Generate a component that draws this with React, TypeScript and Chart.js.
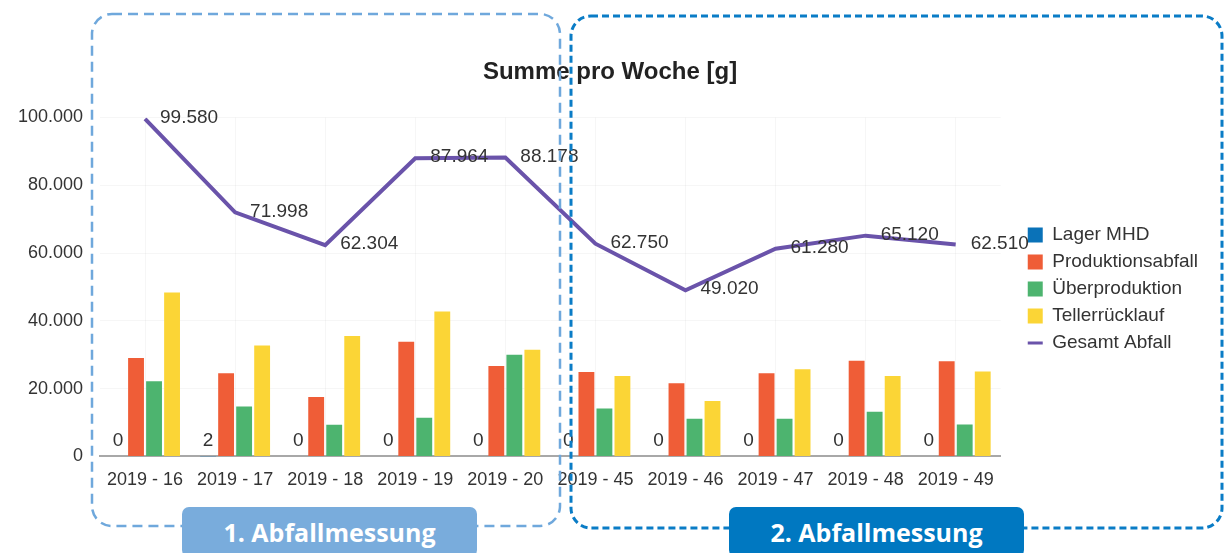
import React, { useEffect, useRef } from "react";
import { Chart, registerables } from "chart.js";

Chart.register(...registerables);

const categories = [
  "2019 - 16", "2019 - 17", "2019 - 18", "2019 - 19", "2019 - 20",
  "2019 - 45", "2019 - 46", "2019 - 47", "2019 - 48", "2019 - 49",
];
const lagerMHD = [0, 2, 0, 0, 0, 0, 0, 0, 0, 0];
const produktionsabfall = [29000, 24500, 17500, 33800, 26700, 24900, 21600, 24500, 28200, 28100];
const ueberproduktion = [22200, 14750, 9300, 11400, 30000, 14100, 11100, 11100, 13200, 9400];
const tellerruecklauf = [48380, 32746, 35504, 42764, 31478, 23750, 16320, 25680, 23720, 25010];
const gesamtAbfall = [99580, 71998, 62304, 87964, 88178, 62750, 49020, 61280, 65120, 62510];
const yTicks = [0, 20000, 40000, 60000, 80000, 100000];

const FONT = '"Liberation Sans", Arial, sans-serif';
const fmt = (v: number) => String(Math.round(v)).replace(/\B(?=(\d{3})+(?!\d))/g, ".");

const valueLabels = {
  id: "valueLabels",
  afterDatasetsDraw(chart: any) {
    const ctx = chart.ctx;
    ctx.save();
    ctx.font = `19px ${FONT}`;
    ctx.fillStyle = "#333";
    ctx.textBaseline = "middle";
    const m0 = chart.getDatasetMeta(0);
    m0.data.forEach((el: any, i: number) => {
      ctx.textAlign = "center";
      ctx.fillText(fmt(lagerMHD[i]), el.x, el.y - 16);
    });
    const m4 = chart.getDatasetMeta(4);
    m4.data.forEach((el: any, i: number) => {
      ctx.textAlign = "left";
      ctx.fillText(fmt(gesamtAbfall[i]), el.x + 15, el.y - 1);
    });
    ctx.restore();
  },
};

export default function App() {
  const ref = useRef<HTMLCanvasElement | null>(null);

  useEffect(() => {
    if (!ref.current) return;
    const chart = new Chart(ref.current, {
      type: "bar",
      data: {
        labels: categories,
        datasets: [
          { label: "Lager MHD", data: lagerMHD, backgroundColor: "#0a72b8", borderWidth: 0, pointStyle: "rect" } as any,
          { label: "Produktionsabfall", data: produktionsabfall, backgroundColor: "#ef5d37", borderWidth: 0, pointStyle: "rect" } as any,
          { label: "Überproduktion", data: ueberproduktion, backgroundColor: "#4db46f", borderWidth: 0, pointStyle: "rect" } as any,
          { label: "Tellerrücklauf", data: tellerruecklauf, backgroundColor: "#fbd536", borderWidth: 0, pointStyle: "rect" } as any,
          {
            type: "line",
            label: "Gesamt Abfall",
            data: gesamtAbfall,
            borderColor: "#6a53aa",
            backgroundColor: "#6a53aa",
            borderWidth: 4,
            pointRadius: 0,
            pointHoverRadius: 0,
            pointBorderWidth: 3,
            pointStyle: "line",
            tension: 0,
          } as any,
        ],
      },
      options: {
        responsive: false,
        animation: false,
        devicePixelRatio: 1,
        layout: { padding: { left: 12, top: 8, right: 17, bottom: 49 } },
        datasets: { bar: { categoryPercentage: 0.8, barPercentage: 0.88 } } as any,
        plugins: {
          title: {
            display: true,
            text: "Summe pro Woche [g]",
            color: "#222",
            font: { family: FONT, size: 24, weight: "bold" },
            padding: { top: 50, bottom: 30.6 },
          },
          legend: {
            position: "right",
            align: "center",
            title: { display: true, text: " ", font: { family: FONT, size: 10 }, padding: { top: 54, bottom: 0 } },
            labels: {
              usePointStyle: true,
              pointStyleWidth: 15,
              boxWidth: 15,
              boxHeight: 15,
              padding: 8,
              color: "#333",
              font: { family: FONT, size: 19 },
              sort: (a: any, b: any) => a.datasetIndex - b.datasetIndex,
            },
          },
          tooltip: { enabled: false },
        },
        scales: {
          x: {
            grid: { display: true, offset: false, color: "rgba(0,0,0,0.035)", drawTicks: false },
            border: { display: true, color: "#a8a8a8", width: 2 },
            ticks: { font: { family: FONT, size: 18 }, color: "#333", padding: 13, maxRotation: 0, autoSkip: false },
          },
          y: {
            min: 0,
            max: 100000,
            afterBuildTicks: (s: any) => {
              s.ticks = yTicks.map((v) => ({ value: v }));
            },
            ticks: { font: { family: FONT, size: 18 }, color: "#333", padding: 17, callback: (v: any) => fmt(Number(v)) },
            grid: { color: "rgba(0,0,0,0.035)", drawTicks: false },
            border: { display: false },
            afterFit: (s: any) => {
              s.width = 88;
            },
          },
          yR: {
            position: "right",
            display: true,
            grid: { display: false, drawTicks: false },
            border: { display: false },
            ticks: { display: false },
            afterFit: (s: any) => {
              s.width = 19;
            },
          },
        } as any,
      },
      plugins: [valueLabels],
    });
    return () => chart.destroy();
  }, []);

  const labelStyle = (left: number, bg: string): React.CSSProperties => ({
    position: "absolute",
    left,
    top: 507,
    width: 295,
    height: 50,
    background: bg,
    borderRadius: "7px 7px 7px 7px",
    color: "#fff",
    fontFamily: '"Open Sans", "Noto Sans", sans-serif',
    fontWeight: 700,
    fontSize: 25,
    display: "flex",
    alignItems: "center",
    justifyContent: "center",
  });

  return (
    <div style={{ position: "absolute", left: 0, top: 0, width: 1225, height: 553, overflow: "hidden", background: "#fff" }}>
      <canvas ref={ref} width={1225} height={553} style={{ position: "absolute", left: 0, top: 0 }} />
      <svg width={1225} height={553} style={{ position: "absolute", left: 0, top: 0, pointerEvents: "none" }}>
        <rect x={92} y={14} width={468} height={512} rx={20} ry={20} fill="none" stroke="#6fa8dc" strokeWidth={2.5} strokeDasharray="10 6" />
        <rect x={571} y={16} width={651} height={512} rx={20} ry={20} fill="none" stroke="#0a7cc6" strokeWidth={3} strokeDasharray="7 4" />
      </svg>
      <div style={labelStyle(182, "#79acdc")}>1. Abfallmessung</div>
      <div style={labelStyle(729, "#0078c1")}>2. Abfallmessung</div>
    </div>
  );
}
